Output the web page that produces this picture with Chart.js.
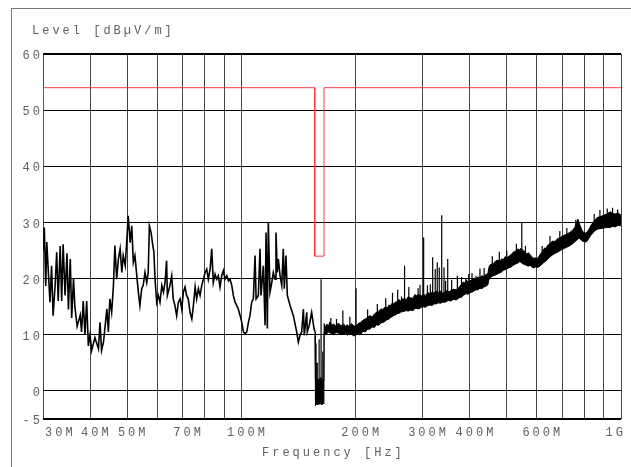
<!DOCTYPE html>
<html><head><meta charset="utf-8">
<script src="https://cdn.jsdelivr.net/npm/chart.js@4.4.1/dist/chart.umd.min.js"></script>
<style>
html,body{margin:0;padding:0;background:#fff;overflow:hidden;}
#wrap{position:relative;width:631px;height:467px;overflow:hidden;}
#frame{position:absolute;left:11px;top:8px;width:700px;height:600px;border-top:1px solid #777;border-left:1px solid #777;}
canvas{position:absolute;left:0;top:0;}
.lbl{position:absolute;font:12px "Courier New","Liberation Mono",monospace;line-height:14px;letter-spacing:3px;color:#606060;white-space:nowrap;}
</style></head>
<body><div id="wrap"><div id="frame"></div><canvas id="c" width="631" height="467"></canvas>
<div class="lbl" style="left:32px;top:24px">Level [dBµV/m]</div>
<div class="lbl" style="left:262px;top:446px">Frequency [Hz]</div>
</div>
<script>
// ---- data (frequency in MHz, level in dBµV/m) ----
const xGridValues = [30,40,50,60,70,80,90,100,200,300,400,500,600,700,800,900,1000];
const xLabelValues = [30,40,50,70,100,200,300,400,600,1000];
const xLabelText = ["30M","40M","50M","70M","100M","200M","300M","400M","600M","1G"];
const yTickValues = [-5,0,10,20,30,40,50,60];

const limitFreq  = [30, 30, 156, 156, 165, 165, 1000];
const limitLevel = [34, 54, 54, 24, 24, 54, 54];

const traceFreq = [30.0,30.24,30.5,30.7,31.0,31.3,31.6,31.9,32.3,32.6,32.9,33.3,33.6,33.9,34.3,34.7,35.0,35.4,35.7,36.1,36.4,36.9,37.6,37.9,38.3,38.7,39.1,39.5,39.9,40.3,41.1,42.0,42.4,42.8,43.3,44.2,44.6,45.0,45.5,46.0,46.4,46.9,47.4,47.9,48.4,48.8,49.4,49.9,50.3,50.9,51.4,51.9,52.4,53.0,53.5,54.0,54.6,55.1,55.7,56.3,56.8,57.2,57.8,58.4,58.8,59.2,59.8,60.4,61.0,61.7,62.3,62.9,63.5,63.8,64.8,65.5,66.1,66.8,67.5,68.2,68.9,69.6,70.3,71.0,71.7,72.4,73.2,74.0,74.7,75.5,76.2,77.0,77.8,78.6,79.4,80.2,81.0,81.8,82.7,83.5,84.3,85.2,86.1,86.9,87.8,88.7,89.6,90.5,91.5,92.4,93.3,94.3,95.2,96.2,97.2,98.1,99.2,100.2,101.2,102.2,103.3,104.3,105.3,106.4,107.5,108.6,109.3,110.8,111.9,112.6,114.2,115.4,116.1,117.0,117.7,118.9,120.2,121.3,122.6,123.3,124.3,125.1,126.4,127.7,128.9,129.7,131.0,132.1,134.3,137.0,139.8,141.2,142.7,144.1,145.6,146.4,148.6,149.1,150.9,153.1,155.3,156.3];
const traceLevel = [25,29.1,18.7,26.5,21,15.8,22.3,13.4,19,24.7,16,25.8,16,26.1,17,24.5,14.5,23.5,13,20,15,11.5,13.5,10.5,16,10,16,8,10,7.2,9.5,7.5,12.2,7.2,8.7,14.6,10.5,16.4,14,18.8,25.9,19.9,23.5,25.3,21.1,24.1,22.3,27,31.2,26.4,29.4,22.9,24.1,20.5,17.6,15.2,18.2,18.8,21.1,19.3,21.1,29.4,28.2,25.9,24.7,19.9,15.8,17,15.8,18.8,17.6,19.3,23.2,17,18.8,20.5,16.4,15.2,13.4,15.8,16.4,14.6,17.6,18.5,17,16.4,14,12.8,15.2,18.5,16.4,18.2,17,18.8,19.9,21.1,21.7,19.9,21.7,25.3,19.3,20.8,19.9,20.5,18.5,20.5,21.4,19.9,20.5,19.6,19.9,18.8,17,15.8,15.2,14.6,13.4,12.2,10.5,10.2,10.5,12.2,13.4,15.8,16.4,24.1,16.4,17,25.3,17,22.3,11.7,28.2,11.1,30,17.6,19.3,21.1,19.9,28.2,21.1,23.5,20.5,18.8,25.3,18.2,24.1,17,15.2,13.4,10.5,8.7,9.9,10.5,14.6,9.9,14,10.5,11.7,14,11.1,10.5];

const bandFreq  = [156.3,156.4,157.0,158.0,159.0,160.0,161.0,162.0,163.0,164.0,164.9,165.1,166.5,168,169.5,171,173,175,177.5,180,183,186,188,190,192.5,195,197.5,200,203,206,209,212,215,218,221,224,227,230,233,236,239,242,245,247,250,252,255,257,260,262,266,272,275,278,283,286,288,293,298,301,305,310,314,318,322,326,330,334,339,344,348,352,356,362,368,375,380,384,388,392,396,400,405,410,415,420,425,430,435,440,446,448,450,455,460,465,472,478,485,490,495,502,510,515,520,528,535,540,545,552,558,565,570,576,583,590,596,601,608,615,622,630,635,640,650,660,670,680,692,705,720,735,745,755,762,770,775,780,788,795,805,815,825,835,850,865,880,900,918,936,950,965,982,1000];
const bandUpper = [10.5,1.8,1.5,2.0,1.4,2.2,1.6,2.4,1.5,2.0,1.8,12.0,11.4,11.9,11.5,12.3,11.7,11.9,11.5,12.1,11.6,11.9,11.5,11.8,11.4,12.0,11.6,11.5,12.0,12.2,12.6,12.8,13.1,13.4,13.2,13.7,14.0,14.2,14.6,14.5,15.0,14.8,15.3,15.2,15.7,15.5,15.9,15.8,16.3,16.0,16.4,16.3,16.8,16.6,16.5,17.1,16.9,17.2,16.9,17.3,17.0,17.5,17.3,17.6,17.4,17.8,17.5,17.8,17.4,17.6,17.9,17.6,17.9,18.1,18.0,18.5,19.0,19.4,19.2,19.7,19.4,19.6,19.8,20.1,19.9,20.3,20.2,20.5,20.4,20.7,20.9,21.8,22.3,22.6,22.5,23.0,23.3,23.1,23.5,23.4,23.9,23.8,24.1,24.4,24.7,24.9,25.3,25.1,25.4,25.0,24.8,24.4,24.6,24.3,23.8,23.6,23.7,23.5,24.0,24.5,24.9,25.5,25.3,25.9,26.2,26.7,26.6,27.1,27.3,27.7,27.9,28.3,28.6,29.1,29.8,30.6,29.9,29.5,28.7,28.3,28.1,28.3,28.9,29.6,30.2,30.9,31.0,31.3,31.5,31.9,31.6,31.5,31.7,31.3];
const bandLower = [9.8,-2.2,-2.6,-2.3,-2.5,-2.2,-2.4,-2.0,-2.5,-2.1,-2.3,10.4,10.0,10.2,10.5,10.4,10.1,10.0,10.4,10.3,10.0,10.1,10.3,9.9,10.2,10.1,9.8,9.9,10.3,10.1,10.6,10.5,11.0,11.0,11.4,11.3,11.8,11.7,12.1,12.2,12.4,12.7,12.8,13.1,13.2,13.5,13.5,13.8,13.8,14.0,14.1,14.3,14.2,14.4,14.3,14.6,14.7,14.6,14.9,15.0,14.9,15.2,15.3,15.2,15.5,15.5,15.7,15.6,15.8,15.8,16.0,16.1,16.0,16.3,16.2,16.6,16.7,17.0,17.2,17.3,17.2,17.5,17.6,17.8,18.0,18.0,18.3,18.2,18.5,18.6,18.9,19.6,20.0,20.3,20.5,20.6,20.8,21.0,21.2,21.5,21.6,21.8,22.0,22.1,22.4,22.6,22.8,23.0,22.9,22.6,22.5,22.3,22.2,22.4,22.0,21.9,22.1,22.0,22.1,22.4,22.7,23.0,23.2,23.4,23.9,24.2,24.5,24.7,25.0,25.3,25.6,25.9,26.2,26.5,26.8,27.0,27.2,27.0,26.8,26.6,26.5,26.7,27.3,27.8,28.4,28.8,28.9,29.0,29.1,29.1,29.3,29.2,29.5,29.4];

const spikeFreq = [157.2,158.4,160.2,162.1,163.8,172,178,185,193,200.4,215,228,240,250,258,264,269,276,287,292,295.5,302,309,314.5,319,324,328,332,337,341.7,345,349.5,358,370.6,380,390,397,405,415,425,436,458,478,500,530,547.8,560,620,650,690,720,760,850,880,920,950,980];
const spikeBase = [0,0,0,0,0,11.5,11.5,11,11.5,10.5,12.5,13.5,14.5,15,15.5,15,15,16,15.5,16.5,16,16,16,17,16.2,16.4,16.5,16.5,16.5,16.6,17.2,16.8,17.5,17.2,18.2,18,19.2,19.5,19,20,20.3,22.4,23,23.6,24.8,24,24.6,24.5,26,27,27.8,29,30,30.8,31.2,31.3,31.2];
const spikeTop  = [8.5,5,9.2,19.9,7,13,12.8,14.3,13.2,18.3,14.5,15.5,16.5,17.5,18,16.8,22.3,18.5,17.2,18.3,18.9,27.3,18.8,19,23.8,21.7,22.9,22,31.3,22,19.6,23.5,19.8,20.5,20.3,20,20.8,21,20.5,21.8,21.9,24,24.8,25,26.2,30,25.8,25.8,27.6,28.5,29,30.5,31.5,32.2,32.5,32.6,32.3];

// ---- build datasets ----
const pts = (xs, ys) => xs.map((x, i) => ({x, y: ys[i]}));
const spikePts = [];
spikeFreq.forEach((f, i) => { spikePts.push({x:f, y:spikeBase[i]}, {x:f, y:spikeTop[i]}, {x:f, y:null}); });

const FONT = '"Courier New", "Liberation Mono", monospace';
const xLabelPlugin = {
  id: 'xlabels',
  beforeDraw(chart) { chart.ctx.letterSpacing = '3px'; },
  afterDraw(chart) {
    const ctx = chart.ctx, sx = chart.scales.x;
    ctx.save();
    ctx.font = '12px ' + FONT;
    ctx.letterSpacing = '3px';
    ctx.fillStyle = '#606060';
    ctx.textBaseline = 'middle';
    ctx.textAlign = 'left';
    const last = xLabelValues.length - 1;
    xLabelValues.forEach((v, i) => {
      const px = sx.getPixelForValue(v);
      const w = ctx.measureText(xLabelText[i]).width - 3;
      let left = px - w / 2 + 4.5;
      if (i === 0) left = px + 2;
      if (i === last) left = px + 2 - w;
      ctx.fillText(xLabelText[i], left, 433);
    });
    ctx.restore();
  }
};

new Chart(document.getElementById('c'), {
  type: 'line',
  data: { datasets: [
    { data: pts(traceFreq, traceLevel), borderColor: '#000', borderWidth: 1.6, fill: false },
    { data: pts(bandFreq, bandLower), borderColor: '#000', borderWidth: 1, fill: false },
    { data: pts(bandFreq, bandUpper), borderColor: '#000', borderWidth: 1, fill: '-1', backgroundColor: '#000' },
    { data: spikePts, borderColor: '#000', borderWidth: 1.2, fill: false, spanGaps: false },
    { data: pts(limitFreq, limitLevel), borderColor: '#ff3a3a', borderWidth: 1, fill: false }
  ]},
  options: {
    responsive: false, animation: false, devicePixelRatio: 1,
    layout: { padding: { left: 0, top: 54, right: 10, bottom: 0 } },
    plugins: { legend: { display: false }, tooltip: { enabled: false } },
    elements: { point: { radius: 0 }, line: { tension: 0 } },
    scales: {
      x: {
        type: 'logarithmic', min: 30, max: 1000,
        afterBuildTicks: s => { s.ticks = xGridValues.map(v => ({ value: v })); },
        afterFit: s => { s.height = 48; },
        ticks: { display: false },
        grid: { color: '#444', lineWidth: 1, drawTicks: false },
        border: { display: false }
      },
      y: {
        min: -5, max: 60,
        afterBuildTicks: s => { s.ticks = yTickValues.map(v => ({ value: v })); },
        afterFit: s => { s.width = 43; },
        ticks: { font: { family: FONT, size: 12 }, color: '#606060', padding: 0, autoSkip: false, labelOffset: 2 },
        grid: { color: '#000', lineWidth: c => (c.tick && (c.tick.value === 60 || c.tick.value === -5)) ? 2 : 1, drawTicks: false },
        border: { display: false }
      }
    }
  },
  plugins: [xLabelPlugin]
});
</script>
</body></html>
